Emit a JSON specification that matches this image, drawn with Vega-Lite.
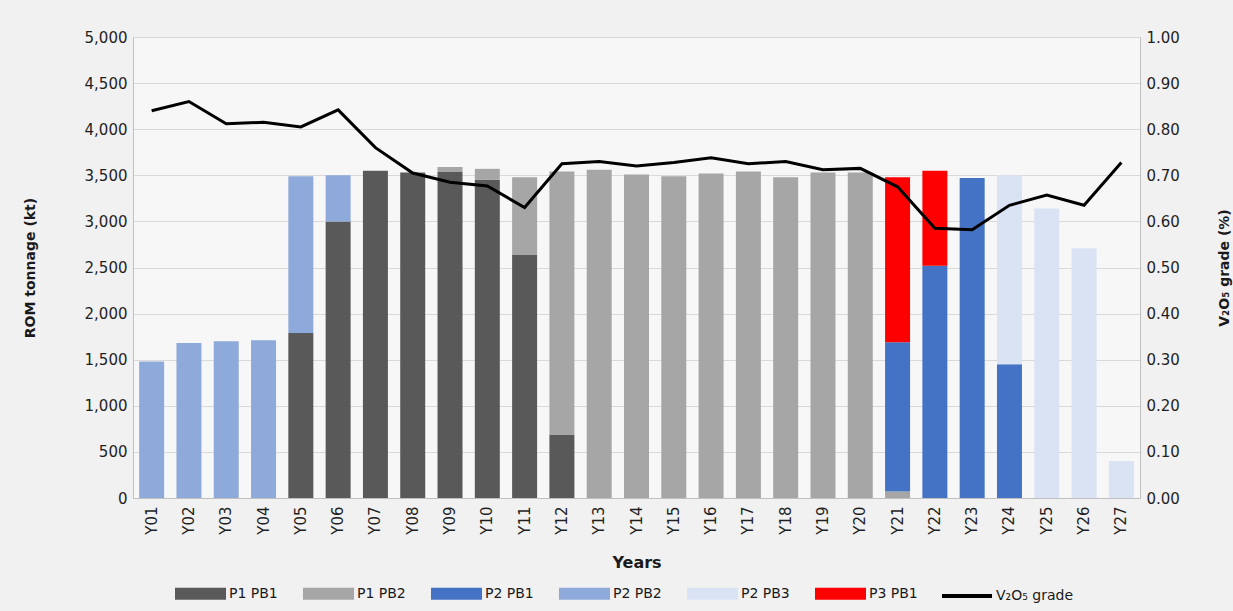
{
  "$schema": "https://vega.github.io/schema/vega-lite/v6.json",
  "autosize": {"type": "none"},
  "width": 1007,
  "height": 461,
  "padding": {"left": 133, "top": 37, "right": 93, "bottom": 113},
  "background": "#f1f1f1",
  "config": {
    "font": "DejaVu Sans",
    "view": {"fill": "#f7f7f7", "stroke": "#c8c8c8"},
    "axis": {"labelColor": "#1f1f1f", "titleColor": "#1a1a1a", "labelFontSize": 15, "titleFontSize": 14, "titleFontWeight": "bold", "domainColor": "#c0c0c0", "ticks": false},
    "legend": {"labelFontSize": 14, "labelColor": "#1a1a1a"}
  },
  "datasets": {
    "tonnage": [
      {"year": "Y01", "pit": "P2 PB2", "kt": 1480},
      {"year": "Y02", "pit": "P2 PB2", "kt": 1680},
      {"year": "Y03", "pit": "P2 PB2", "kt": 1700},
      {"year": "Y04", "pit": "P2 PB2", "kt": 1710},
      {"year": "Y05", "pit": "P1 PB1", "kt": 1790},
      {"year": "Y05", "pit": "P2 PB2", "kt": 1700},
      {"year": "Y06", "pit": "P1 PB1", "kt": 3000},
      {"year": "Y06", "pit": "P2 PB2", "kt": 500},
      {"year": "Y07", "pit": "P1 PB1", "kt": 3550},
      {"year": "Y08", "pit": "P1 PB1", "kt": 3530},
      {"year": "Y09", "pit": "P1 PB1", "kt": 3540},
      {"year": "Y09", "pit": "P1 PB2", "kt": 50},
      {"year": "Y10", "pit": "P1 PB1", "kt": 3450},
      {"year": "Y10", "pit": "P1 PB2", "kt": 120},
      {"year": "Y11", "pit": "P1 PB1", "kt": 2640},
      {"year": "Y11", "pit": "P1 PB2", "kt": 840},
      {"year": "Y12", "pit": "P1 PB1", "kt": 690},
      {"year": "Y12", "pit": "P1 PB2", "kt": 2850},
      {"year": "Y13", "pit": "P1 PB2", "kt": 3560},
      {"year": "Y14", "pit": "P1 PB2", "kt": 3510},
      {"year": "Y15", "pit": "P1 PB2", "kt": 3490},
      {"year": "Y16", "pit": "P1 PB2", "kt": 3520},
      {"year": "Y17", "pit": "P1 PB2", "kt": 3540},
      {"year": "Y18", "pit": "P1 PB2", "kt": 3480},
      {"year": "Y19", "pit": "P1 PB2", "kt": 3530},
      {"year": "Y20", "pit": "P1 PB2", "kt": 3530},
      {"year": "Y21", "pit": "P1 PB2", "kt": 70},
      {"year": "Y21", "pit": "P2 PB1", "kt": 1620},
      {"year": "Y21", "pit": "P3 PB1", "kt": 1790},
      {"year": "Y22", "pit": "P2 PB1", "kt": 2520},
      {"year": "Y22", "pit": "P3 PB1", "kt": 1030},
      {"year": "Y23", "pit": "P2 PB1", "kt": 3470},
      {"year": "Y24", "pit": "P2 PB1", "kt": 1450},
      {"year": "Y24", "pit": "P2 PB3", "kt": 2050},
      {"year": "Y25", "pit": "P2 PB3", "kt": 3140},
      {"year": "Y26", "pit": "P2 PB3", "kt": 2710},
      {"year": "Y27", "pit": "P2 PB3", "kt": 400}
    ],
    "grade": [
      {"year": "Y01", "grade": 0.84},
      {"year": "Y02", "grade": 0.86},
      {"year": "Y03", "grade": 0.812},
      {"year": "Y04", "grade": 0.815},
      {"year": "Y05", "grade": 0.805},
      {"year": "Y06", "grade": 0.842},
      {"year": "Y07", "grade": 0.76},
      {"year": "Y08", "grade": 0.705},
      {"year": "Y09", "grade": 0.685},
      {"year": "Y10", "grade": 0.677},
      {"year": "Y11", "grade": 0.63},
      {"year": "Y12", "grade": 0.725},
      {"year": "Y13", "grade": 0.73},
      {"year": "Y14", "grade": 0.72},
      {"year": "Y15", "grade": 0.728},
      {"year": "Y16", "grade": 0.738},
      {"year": "Y17", "grade": 0.725},
      {"year": "Y18", "grade": 0.73},
      {"year": "Y19", "grade": 0.712},
      {"year": "Y20", "grade": 0.715},
      {"year": "Y21", "grade": 0.675},
      {"year": "Y22", "grade": 0.585},
      {"year": "Y23", "grade": 0.582},
      {"year": "Y24", "grade": 0.635},
      {"year": "Y25", "grade": 0.657},
      {"year": "Y26", "grade": 0.635},
      {"year": "Y27", "grade": 0.728}
    ]
  },
  "encoding": {
    "x": {
      "field": "year", "type": "nominal",
      "scale": {"paddingInner": 0.33, "paddingOuter": 0.165},
      "axis": {"title": "Years", "labelAngle": -90, "labelPadding": 8, "titlePadding": 20, "titleFontSize": 16}
    }
  },
  "layer": [
    {
      "data": {"name": "tonnage"},
      "mark": {"type": "bar"},
      "encoding": {
        "y": {
          "field": "kt", "type": "quantitative", "aggregate": "sum",
          "scale": {"domain": [0, 5000], "nice": false},
          "axis": {"title": "ROM tonnage (kt)", "values": [0,500,1000,1500,2000,2500,3000,3500,4000,4500,5000], "format": ",.0f", "gridColor": "#d9d9d9", "labelPadding": 6, "titlePadding": 47}
        },
        "order": {"field": "pit", "sort": "ascending"},
        "color": {
          "field": "pit", "type": "nominal",
          "scale": {"domain": ["P1 PB1", "P1 PB2", "P2 PB1", "P2 PB2", "P2 PB3", "P3 PB1"], "range": ["#595959", "#a6a6a6", "#4472c4", "#8eaadb", "#dae3f3", "#ff0000"]},
          "legend": {"title": null, "orient": "none", "direction": "horizontal", "legendX": 42, "legendY": 531, "symbolType": "M-1,-0.24L1,-0.24L1,0.24L-1,0.24Z", "symbolSize": 2601, "symbolStrokeWidth": 0, "symbolOpacity": 1, "labelOffset": 3, "columnPadding": 25}
        }
      }
    },
    {
      "data": {"name": "grade"},
      "mark": {"type": "line", "strokeWidth": 3},
      "encoding": {
        "y": {
          "field": "grade", "type": "quantitative",
          "scale": {"domain": [0, 1], "nice": false},
          "axis": {"orient": "right", "title": "V₂O₅ grade (%)", "titleAngle": 270, "values": [0,0.1,0.2,0.3,0.4,0.5,0.6,0.7,0.8,0.9,1], "format": ".2f", "grid": false, "labelPadding": 6, "titlePadding": 52}
        },
        "stroke": {
          "datum": "V₂O₅ grade",
          "scale": {"range": ["#000000"]},
          "legend": {"title": null, "orient": "none", "legendX": 807, "legendY": 532, "symbolType": "stroke", "symbolSize": 2500, "symbolStrokeWidth": 4, "labelOffset": 2}
        }
      }
    }
  ],
  "resolve": {"scale": {"y": "independent"}}
}
